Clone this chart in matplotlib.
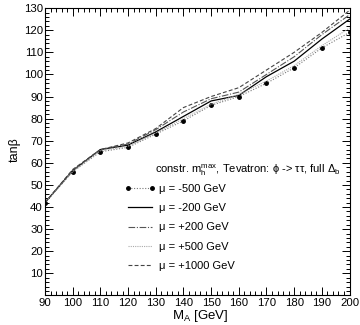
import matplotlib
matplotlib.use("Agg")
import matplotlib.pyplot as plt
from matplotlib.ticker import MultipleLocator

plt.rcParams["font.family"] = ["Liberation Sans", "DejaVu Sans"]
plt.rcParams["mathtext.fontset"] = "custom"
plt.rcParams["mathtext.rm"] = "Liberation Sans"
plt.rcParams["mathtext.it"] = "Liberation Sans"

# M_A [GeV]
ma = [90, 100, 110, 120, 130, 140, 150, 160, 170, 180, 190, 200]
# tan(beta) limits for the different mu values
mu_m500 = [42, 56, 65, 67, 73, 79, 86, 90, 96, 103, 112, 119]
mu_m200 = [42, 56.5, 66, 68, 74, 81, 88, 90.5, 99, 106, 116, 125]
mu_p200 = [42, 56.5, 66, 68.5, 75, 83, 89, 92, 100, 108, 118, 127]
mu_p500 = [42, 56, 65.5, 67.5, 73.5, 80, 86.5, 91, 97, 104, 113, 121]
mu_p1000 = [42, 57, 66, 69, 75.5, 85, 90, 94, 102, 110, 119, 129]

labels = ["μ = -500 GeV", "μ = -200 GeV", "μ = +200 GeV",
          "μ = +500 GeV", "μ = +1000 GeV"]

fig = plt.figure(figsize=(3.6, 3.25), dpi=100, facecolor="white")
ax = fig.add_axes([0.125, 0.091, 0.846, 0.884])

ax.plot(ma, mu_m500, color="#777777", lw=0.8, ls=(0, (1, 1.5)),
        marker="o", ms=2.5, mfc="black", mec="black", label=labels[0])
ax.plot(ma, mu_m200, color="black", lw=0.9, ls="-", label=labels[1])
ax.plot(ma, mu_p200, color="#555555", lw=0.8, ls=(0, (6, 1.5, 1, 1.5)), label=labels[2])
ax.plot(ma, mu_p500, color="#aaaaaa", lw=0.8, ls=(0, (1, 1)), label=labels[3])
ax.plot(ma, mu_p1000, color="#444444", lw=0.8, ls=(0, (3.5, 2)), label=labels[4])

ax.set_xlim(90, 200)
ax.set_ylim(0, 130)
ax.xaxis.set_major_locator(MultipleLocator(10))
ax.xaxis.set_minor_locator(MultipleLocator(2))
ax.yaxis.set_major_locator(MultipleLocator(10))
ax.yaxis.set_minor_locator(MultipleLocator(2))
ax.tick_params(which="both", direction="in", top=True, right=True,
               labelsize=8.2, width=0.7, pad=1.5)
ax.tick_params(which="major", length=6)
ax.tick_params(which="minor", length=3)
ax.set_yticks(range(10, 131, 10))
for s in ax.spines.values():
    s.set_linewidth(0.8)

ax.text(0.362, 0.437, r"constr. m$_\mathrm{h}^\mathrm{max}$, Tevatron: ϕ -> ττ, full Δ$_\mathrm{b}$",
        transform=ax.transAxes, fontsize=8, va="center")

ax.legend(loc="upper left", bbox_to_anchor=(0.247, 0.405), frameon=False,
          fontsize=8, numpoints=2, handlelength=2.8, handletextpad=0.3,
          labelspacing=0.85, borderaxespad=0)

fig.text(0.478, 0.003, r"M$_\mathrm{A}$ [GeV]", fontsize=9.5, va="bottom")
fig.text(0.042, 0.54, "tanβ", fontsize=9, rotation=90, va="center", ha="center")

fig.savefig("out.png", dpi=100)
